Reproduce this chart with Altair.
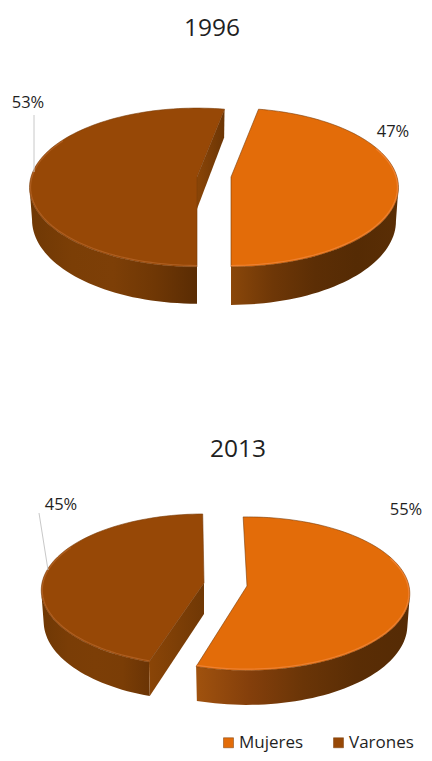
import math
import altair as alt

# ---- values ----
categories = ["Mujeres", "Varones"]
years = ["1996", "2013"]
pct_1996 = [47, 53]
pct_2013 = [55, 45]

ORANGE, BROWN = "#E36C09", "#974806"
FONT = "Open Sans"
TXT = "#1f1f1f"
OFF = 8  # page margin


def project(p, theta, z=0.0):
    """perspective view of a point on a disc; theta clockwise from the far side."""
    u, v = math.sin(math.radians(theta)), math.cos(math.radians(theta))
    w = 1 + p["k"] * v
    shrink = 1 - 0.015 * (z > 0)
    return (p["ax"] + p["R"] * shrink * u / w - OFF,
            p["ay"] - p["H"] * v / w + z / w - OFF)


def arc(p, a, b, z=0.0, step=2.0):
    n = max(2, int(abs(b - a) / step))
    return [project(p, a + (b - a) * i / n, z) for i in range(n + 1)]


def poly(pts, name=None):
    pts = [list(q) for q in pts]
    if pts[0] != pts[-1]:
        pts.append(pts[0])
    return {"type": "Feature", "geometry": {"type": "Polygon", "coordinates": [pts]},
            "properties": {"name": name}}


def line(pts):
    return {"type": "Feature", "properties": {},
            "geometry": {"type": "LineString", "coordinates": [list(q) for q in pts]}}


IDENT = dict(type="identity", scale=1, translate=[0, 0])


def grad(stops):
    n = len(stops) - 1
    return alt.Gradient(gradient="linear", x1=0, x2=1, y1=0, y2=0,
                        stops=[alt.GradientStop(offset=i / n, color=c) for i, c in enumerate(stops)])


def shape(feats, **kw):
    return alt.Chart(alt.Data(values=feats)).mark_geoshape(**kw).project(**IDENT)


o96 = dict(ax=231, ay=177, R=166, H=78, k=0.132, D=33)
b96 = dict(ax=197, ay=177, R=166, H=78, k=0.132, D=32)
o13 = dict(ax=247, ay=586, R=162, H=76, k=0.10, D=31)
b13 = dict(ax=204, ay=583, R=162, H=75.6, k=0.095, D=31)

# slice angles come from the percentages
o96_a = (180 - 3.6 * pct_1996[0], 180)
b96_a = (180, 180 + 3.6 * pct_1996[1])
rot13 = -1.5
o13_a = (rot13, rot13 + 3.6 * pct_2013[0])
b13_a = (3.6 * pct_2013[0], 360 - 0.5)

layers = []


def front_wall(p, a, b, stops):
    top = arc(p, a, b)
    bot = arc(p, b, a, p["D"])
    layers.append(shape([poly(top + bot)], fill=grad(stops), stroke=None))


def cut_wall(p, theta, stops):
    c = project(p, theta)
    c2 = project(p, theta, p["D"])
    ap = (p["ax"] - OFF, p["ay"] - OFF)
    ap2 = (ap[0], ap[1] + p["D"])
    layers.append(shape([poly([ap, c, c2, ap2])], fill=grad(stops), stroke=None))


VIS = 97.5
front_wall(o96, VIS, 180, ["#8a470a", "#6e3707", "#5c2e05", "#552b04", "#5a2e05"])
front_wall(b96, 180, 360 - VIS, ["#6f3805", "#7b3e06", "#7d3f07", "#6f3705", "#5a2c03"])
front_wall(o13, VIS, o13_a[1], ["#a0520e", "#843f0b", "#6a3507", "#5a2d05", "#552b05"])
front_wall(b13, b13_a[0], 360 - VIS, ["#6f3805", "#7a3d06", "#7c3e06", "#7a3d06", "#6a3405"])
cut_wall(b96, b96_a[1], ["#8a4507", "#6b3505"])
cut_wall(b13, b13_a[0], ["#8a4507", "#703805"])

# top faces, carrying the legend
tops = []
for p, (a, b), name in [(o96, o96_a, categories[0]), (b96, b96_a, categories[1]),
                        (o13, o13_a, categories[0]), (b13, b13_a, categories[1])]:
    tops.append(poly([(p["ax"] - OFF, p["ay"] - OFF)] + arc(p, a, b), name))

tops_chart = shape(tops, stroke="#7a3d08", strokeWidth=0.6).encode(
    color=alt.Color("properties.name:N",
                    scale=alt.Scale(domain=categories, range=[ORANGE, BROWN]),
                    legend=alt.Legend(title=None, orient="none", legendX=212, legendY=726,
                                      direction="horizontal", columns=2, columnPadding=26,
                                      symbolType="square", symbolSize=100, symbolStrokeColor="#7a3d08",
                                      symbolStrokeWidth=0.5, labelFont=FONT, labelFontSize=17,
                                      labelColor=TXT, labelOffset=2, padding=0)))
layers.append(tops_chart)


# bevel highlights along the near rims
def rim(p, a, b, color):
    q = dict(p, R=p["R"] - 1.0, H=p["H"] - 1.2)
    layers.append(shape([line(arc(q, a, b))], filled=False, stroke=color, strokeWidth=1.2))


rim(o96, VIS - 30, 180, "#EE8030")
rim(b96, 180, 300, "#AE5E20")
rim(o13, VIS - 30, o13_a[1], "#EE8030")
rim(b13, b13_a[0], 300, "#AE5E20")

# leader lines
layers.append(shape([line([(34 - OFF, 115 - OFF), (34 - OFF, 172 - OFF)]),
                     line([(39 - OFF, 513 - OFF), (48 - OFF, 570 - OFF)])],
                    filled=False, stroke="#c8c8c8", strokeWidth=1))


def text(label, x, y, size):
    return alt.Chart(alt.Data(values=[{"t": label}])).mark_text(
        font=FONT, fontSize=size, color=TXT, align="center", baseline="middle"
    ).encode(text="t:N", x=alt.value(x - OFF), y=alt.value(y - OFF))


layers += [
    text(years[0], 212, 29, 24.5),
    text(years[1], 238, 450, 24.5),
    text(f"{pct_1996[1]}%", 28, 103, 16.5),
    text(f"{pct_1996[0]}%", 393, 132, 16.5),
    text(f"{pct_2013[1]}%", 61, 505, 16.5),
    text(f"{pct_2013[0]}%", 406, 510, 16.5),
]

chart = alt.layer(*layers).properties(
    width=416, height=745, padding=0, autosize=alt.AutoSizeParams(type="none"), background="white"
).configure_view(stroke=None)

chart.save("out.html", embed_options={"renderer": "svg", "actions": False})
